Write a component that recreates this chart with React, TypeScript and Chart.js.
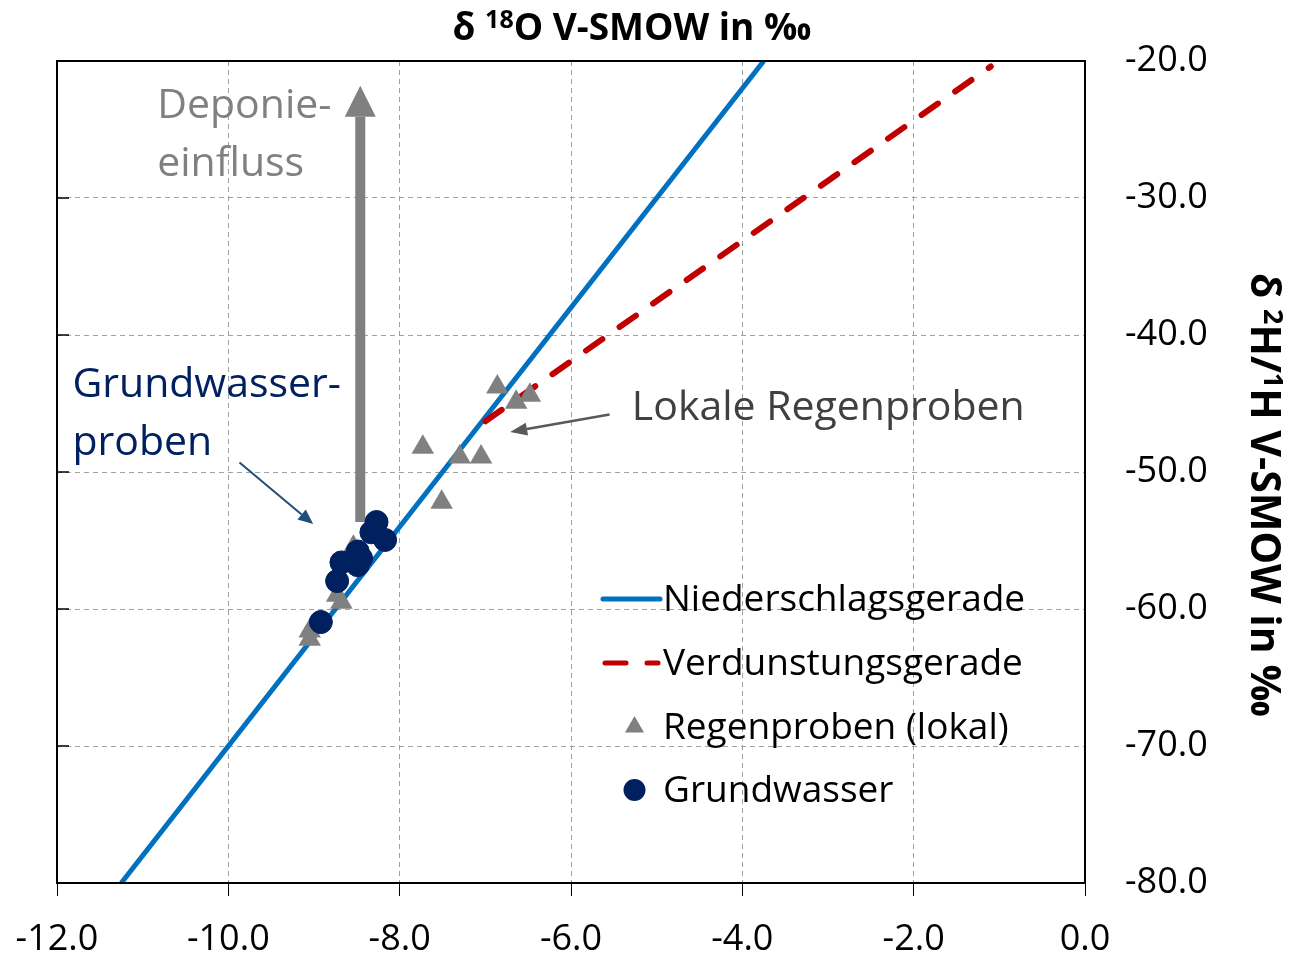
import React, { useEffect, useRef } from "react";
import { Chart, registerables } from "chart.js";
Chart.register(...registerables);

const FONT = "'Open Sans', sans-serif";

// axis ranges / ticks
const xMin = -12, xMax = 0, xStep = 2;
const yMin = -80, yMax = -20, yStep = 10;
const yInnerTicks = [-30, -40, -50, -60, -70];

// series
const gmwlX = [-11.25, -3.75];
const gmwlY = [-80, -20];
const evapX = [-7.0, -1.1];
const evapY = [-46.3, -20.4];
const rainX = [-6.86, -6.64, -6.48, -7.73, -7.30, -7.05, -7.51, -8.54, -8.73, -8.68, -9.05, -9.05];
const rainY = [-43.8, -44.9, -44.4, -48.2, -48.9, -48.9, -52.2, -55.5, -59.0, -59.5, -61.6, -62.2];
const gwX = [-8.27, -8.33, -8.17, -8.49, -8.45, -8.49, -8.68, -8.73, -8.92];
const gwY = [-53.65, -54.4, -54.96, -55.8, -56.3, -56.8, -56.6, -57.96, -60.95];

// labels
const seriesNames = ["Niederschlagsgerade", "Verdunstungsgerade", "Regenproben (lokal)", "Grundwasser"];
const colors = { gmwl: "#0070C0", evap: "#C00000", rain: "#808080", gw: "#002060" };

// annotations (data coordinates)
const depArrow = { x: -8.46, yFrom: -53.65, yTo: -21.8 };
const depText = { x: -10.83, lines: ["Deponie-", "einfluss"], y: [-24.15, -28.4] };
const gwText = { x: -11.82, lines: ["Grundwasser-", "proben"], y: [-44.5, -48.75] };
const gwArrow = { x1: -9.87, y1: -49.3, x2: -9.01, y2: -53.8 };
const rainText = { x: -5.29, text: "Lokale Regenproben", y: -46.2 };
const rainArrow = { x1: -5.55, y1: -45.8, x2: -6.71, y2: -47.08 };

type Seg = { text: string; size: number; bold?: boolean; rise?: number };

function drawRich(ctx: CanvasRenderingContext2D, segs: Seg[], x: number, y: number, align: "left" | "center") {
  const widths = segs.map((s) => {
    ctx.font = `${s.bold ? "bold " : ""}${s.size}px ${FONT}`;
    return ctx.measureText(s.text).width;
  });
  const total = widths.reduce((a, b) => a + b, 0);
  let cx = align === "center" ? x - total / 2 : x;
  ctx.textAlign = "left";
  ctx.textBaseline = "alphabetic";
  segs.forEach((s, i) => {
    ctx.font = `${s.bold ? "bold " : ""}${s.size}px ${FONT}`;
    ctx.fillText(s.text, cx, y - (s.rise || 0));
    cx += widths[i];
  });
}

function drawArrow(
  ctx: CanvasRenderingContext2D,
  x1: number, y1: number, x2: number, y2: number,
  width: number, headLen: number, headW: number, color: string
) {
  const ang = Math.atan2(y2 - y1, x2 - x1);
  const bx = x2 - Math.cos(ang) * headLen;
  const by = y2 - Math.sin(ang) * headLen;
  ctx.save();
  ctx.strokeStyle = color;
  ctx.fillStyle = color;
  ctx.lineWidth = width;
  ctx.lineCap = "butt";
  ctx.beginPath();
  ctx.moveTo(x1, y1);
  ctx.lineTo(bx, by);
  ctx.stroke();
  const nx = -Math.sin(ang), ny = Math.cos(ang);
  ctx.beginPath();
  ctx.moveTo(x2, y2);
  ctx.lineTo(bx + nx * headW / 2, by + ny * headW / 2);
  ctx.lineTo(bx - nx * headW / 2, by - ny * headW / 2);
  ctx.closePath();
  ctx.fill();
  ctx.restore();
}

const decorPlugin = {
  id: "decor",
  beforeDatasetsDraw(chart: any) {
    const { ctx, scales } = chart;
    const xs = scales.x, ys = scales.y;
    const px = (v: number) => xs.getPixelForValue(v);
    const py = (v: number) => ys.getPixelForValue(v);
    drawArrow(ctx, px(depArrow.x), py(depArrow.yFrom), px(depArrow.x), py(depArrow.yTo), 10, 31, 31, "#808080");
  },
  afterDraw(chart: any) {
    const { ctx, chartArea, scales } = chart;
    const xs = scales.x, ys = scales.y;
    const px = (v: number) => xs.getPixelForValue(v);
    const py = (v: number) => ys.getPixelForValue(v);
    ctx.save();
    // plot border
    ctx.strokeStyle = "#000";
    ctx.lineWidth = 2;
    ctx.strokeRect(chartArea.left, chartArea.top, chartArea.right - chartArea.left, chartArea.bottom - chartArea.top);
    ctx.lineWidth = 1.5;
    yInnerTicks.forEach((v) => {
      ctx.beginPath();
      ctx.moveTo(chartArea.left, py(v));
      ctx.lineTo(chartArea.left + 12, py(v));
      ctx.stroke();
    });

    // titles
    ctx.fillStyle = "#000";
    drawRich(ctx, [
      { text: "δ ", size: 37, bold: true },
      { text: "18", size: 25, bold: true, rise: 12 },
      { text: "O V-SMOW in ‰", size: 37, bold: true },
    ], 632, 40, "center");

    ctx.save();
    ctx.translate(1251, 495);
    ctx.rotate(Math.PI / 2);
    drawRich(ctx, [
      { text: "δ ", size: 41, bold: true },
      { text: "2", size: 27, bold: true, rise: 13 },
      { text: "H/", size: 41, bold: true },
      { text: "1", size: 27, bold: true, rise: 13 },
      { text: "H V-SMOW in ‰", size: 41, bold: true },
    ], 0, 0, "center");
    ctx.restore();

    // annotation texts
    ctx.font = `41px ${FONT}`;
    ctx.textAlign = "left";
    ctx.textBaseline = "alphabetic";
    ctx.fillStyle = "#808080";
    depText.lines.forEach((t, i) => ctx.fillText(t, px(depText.x), py(depText.y[i])));
    ctx.fillStyle = "#002060";
    gwText.lines.forEach((t, i) => ctx.fillText(t, px(gwText.x), py(gwText.y[i])));
    ctx.fillStyle = "#404040";
    ctx.fillText(rainText.text, px(rainText.x), py(rainText.y));
    drawArrow(ctx, px(gwArrow.x1), py(gwArrow.y1), px(gwArrow.x2), py(gwArrow.y2), 2, 15, 13, "#1F4E79");
    drawArrow(ctx, px(rainArrow.x1), py(rainArrow.y1), px(rainArrow.x2), py(rainArrow.y2), 2.5, 17, 13, "#595959");

    // legend
    const lx = chartArea.left + 546;
    const lx2 = chartArea.left + 603;
    const tx = chartArea.left + 606;
    const rows = [599, 663, 727, 790];
    ctx.lineWidth = 5;
    ctx.strokeStyle = colors.gmwl;
    ctx.lineCap = "round";
    ctx.beginPath();
    ctx.moveTo(lx, rows[0]);
    ctx.lineTo(lx2, rows[0]);
    ctx.stroke();
    ctx.strokeStyle = colors.evap;
    ctx.setLineDash([21, 21]);
    ctx.beginPath();
    ctx.moveTo(lx + 2, rows[1]);
    ctx.lineTo(lx2 - 2, rows[1]);
    ctx.stroke();
    ctx.setLineDash([]);
    const cx = (lx + lx2) / 2 + 3;
    const r = 11;
    ctx.fillStyle = colors.rain;
    ctx.beginPath();
    ctx.moveTo(cx, rows[2] - r);
    ctx.lineTo(cx + r * Math.sin((2 * Math.PI) / 3), rows[2] - r * Math.cos((2 * Math.PI) / 3));
    ctx.lineTo(cx + r * Math.sin((4 * Math.PI) / 3), rows[2] - r * Math.cos((4 * Math.PI) / 3));
    ctx.closePath();
    ctx.fill();
    ctx.fillStyle = colors.gw;
    ctx.beginPath();
    ctx.arc(cx, rows[3], 11, 0, Math.PI * 2);
    ctx.fill();
    ctx.fillStyle = "#000";
    ctx.font = `37px ${FONT}`;
    ctx.textBaseline = "middle";
    seriesNames.forEach((n, i) => ctx.fillText(n, tx, rows[i] + 1));
    ctx.restore();
  },
};

export default function App() {
  const ref = useRef<HTMLCanvasElement | null>(null);
  useEffect(() => {
    document.body.style.margin = "0";
    const canvas = ref.current!;
    const chart = new Chart(canvas, {
      type: "scatter",
      data: {
        datasets: [
          {
            label: seriesNames[3],
            data: gwX.map((x, i) => ({ x, y: gwY[i] })),
            backgroundColor: colors.gw,
            borderColor: colors.gw,
            pointStyle: "circle",
            pointRadius: 11.5,
            order: 1,
          },
          {
            label: seriesNames[2],
            data: rainX.map((x, i) => ({ x, y: rainY[i] })),
            backgroundColor: colors.rain,
            borderColor: colors.rain,
            borderWidth: 0,
            pointStyle: "triangle",
            pointRadius: 13,
            order: 2,
          },
          {
            type: "line",
            label: seriesNames[1],
            data: evapX.map((x, i) => ({ x, y: evapY[i] })),
            borderColor: colors.evap,
            borderWidth: 6,
            borderDash: [20, 21],
            borderCapStyle: "round",
            pointRadius: 0,
            fill: false,
            order: 3,
          } as any,
          {
            type: "line",
            label: seriesNames[0],
            data: gmwlX.map((x, i) => ({ x, y: gmwlY[i] })),
            borderColor: colors.gmwl,
            borderWidth: 5,
            pointRadius: 0,
            fill: false,
            order: 4,
          } as any,
        ],
      },
      options: {
        responsive: false,
        animation: false,
        devicePixelRatio: 1,
        layout: { padding: { left: 57, top: 61, right: 0, bottom: 0 } },
        plugins: { legend: { display: false }, tooltip: { enabled: false }, title: { display: false } },
        scales: {
          x: {
            type: "linear",
            position: "bottom",
            min: xMin,
            max: xMax,
            afterFit: (s: any) => { s.height = 73; s.paddingLeft = 0; s.paddingRight = 0; },
            ticks: {
              stepSize: xStep,
              color: "#000",
              font: { family: FONT, size: 36 },
              padding: 22,
              maxRotation: 0,
              minRotation: 0,
              callback: (v: any) => Number(v).toFixed(1),
            },
            grid: { color: "#a0a0a0", lineWidth: 1, tickLength: 13, tickColor: "#000", tickWidth: 1 },
            border: { display: false, dash: [5, 4] },
          },
          y: {
            type: "linear",
            position: "right",
            min: yMin,
            max: yMax,
            afterFit: (s: any) => { s.width = 208; s.paddingTop = 0; s.paddingBottom = 0; },
            ticks: {
              stepSize: yStep,
              color: "#000",
              font: { family: FONT, size: 36 },
              padding: 40,
              callback: (v: any) => Number(v).toFixed(1),
            },
            grid: { color: "#a0a0a0", lineWidth: 1, drawTicks: false },
            border: { display: false, dash: [5, 4] },
          },
        },
      },
      plugins: [decorPlugin],
    });
    return () => chart.destroy();
  }, []);
  return (
    <div style={{ width: 1293, height: 956 }}>
      <canvas ref={ref} width={1293} height={956} style={{ display: "block" }} />
    </div>
  );
}
